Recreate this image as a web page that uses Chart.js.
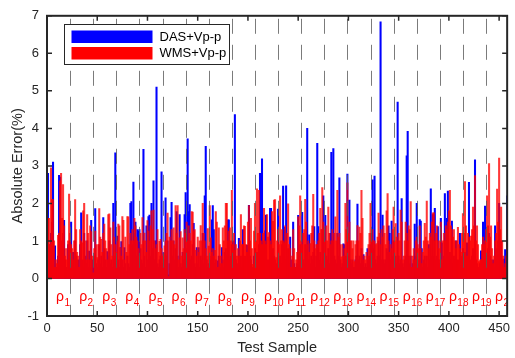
<!DOCTYPE html>
<html>
<head>
<meta charset="utf-8">
<script src="https://cdn.jsdelivr.net/npm/chart.js@4.4.0/dist/chart.umd.min.js"></script>
<style>
    html, body { margin: 0; padding: 0; background: #fff; }
    #wrap { width: 515px; height: 358px; }
</style>
</head>
<body>
<div id="wrap"><canvas id="errChart" width="515" height="358"></canvas></div>
<script>
// Absolute error per test sample (%), 23 samples per rho group
const dasErr = [
    2.8,0.9,0.4,1.2,1.5,3.1,0.5,0.87,0.3,0.2,0.6,2.75,2.7,1.0,0.8,1.2,1.55,0.5,0.3,0.2,0.9,0.6,1.0,
    1.5,0.4,0.7,0.3,1.0,0.6,0.4,0.5,0.2,0.9,1.75,0.5,0.3,1.2,0.6,0.4,1.0,0.3,0.73,0.3,1.55,0.5,0.32,
    0.6,1.86,0.4,0.3,0.5,0.9,0.4,0.6,0.3,1.62,0.8,0.5,0.3,0.72,0.6,1.0,0.4,0.5,0.3,2.0,0.6,3.35,0.4,
    1.13,0.5,0.3,0.82,0.98,0.5,0.3,0.82,0.4,0.2,0.6,0.4,0.3,2.0,2.05,0.9,2.57,1.2,1.5,0.6,1.3,1.26,1.3,
    0.8,0.5,0.4,3.44,0.6,0.3,1.4,0.5,1.65,1.69,0.6,2.0,0.8,2.6,0.5,1.0,5.1,0.4,0.3,0.5,0.6,2.84,0.4,
    0.69,0.5,2.15,0.6,1.0,0.1,0.4,1.62,2.03,0.6,1.0,0.5,0.8,1.78,0.6,0.3,1.7,0.4,0.3,0.7,0.5,1.7,2.29,
    0.8,3.72,1.78,1.97,0.5,0.6,0.9,1.47,0.4,0.3,0.82,0.4,0.82,0.3,0.6,0.5,1.2,0.4,2.2,3.52,0.5,0.3,0.4,
    0.6,0.5,1.56,1.94,1.3,0.4,0.5,0.3,0.47,0.6,0.4,0.3,0.82,0.5,0.3,0.7,0.8,0.6,1.56,1.56,0.5,0.6,0.9,
    1.0,0.7,4.37,0.5,0.4,0.3,1.07,0.4,0.6,0.3,1.3,0.5,0.6,0.4,0.89,0.5,1.95,0.6,0.5,0.3,0.2,0.6,0.8,
    0.5,0.7,0.6,0.9,2.8,2.78,3.19,1.0,0.6,1.27,1.69,0.4,0.5,0.3,1.87,1.87,0.5,0.8,0.6,0.5,0.3,0.4,1.85,
    0.5,0.6,0.4,0.9,2.46,1.36,0.5,2.47,0.6,0.8,0.4,1.1,0.3,0.5,1.5,0.4,0.3,0.2,0.4,1.68,0.6,0.9,0.5,
    1.76,0.5,0.4,0.9,0.8,4.0,0.5,1.16,0.4,0.6,0.5,0.7,1.38,0.3,0.6,3.6,1.38,0.5,0.7,0.4,1.3,2.2,0.4,
    1.68,0.6,0.5,0.8,0.4,1.2,3.36,1.0,3.46,0.6,0.5,0.4,1.2,0.6,2.68,0.5,0.3,0.4,0.92,0.9,0.6,0.5,2.78,
    0.6,2.09,0.5,0.4,0.5,0.3,0.3,0.5,0.6,1.98,0.5,0.6,0.4,0.8,0.6,0.64,0.3,0.4,0.3,0.8,0.5,0.6,0.9,
    1.2,2.63,0.8,2.73,0.5,0.4,0.6,1.0,0.6,6.84,0.5,1.69,0.5,0.4,0.5,0.8,0.7,1.4,1.2,0.5,1.53,0.6,1.0,
    0.5,0.6,0.4,4.7,0.6,0.4,0.5,2.13,0.4,0.3,0.5,0.6,3.27,3.92,0.6,0.4,0.6,0.3,0.4,0.5,1.45,0.6,2.0,
    0.5,0.4,1.57,1.53,0.8,0.3,0.5,0.6,0.4,0.6,0.3,0.9,0.5,2.39,0.6,1.7,0.6,1.87,0.5,0.6,1.38,0.5,0.4,
    1.6,0.95,0.4,0.6,2.26,0.5,1.6,2.33,0.6,0.7,0.5,1.53,0.4,0.6,0.5,1.0,0.4,0.5,0.3,1.2,0.4,0.6,0.8,
    0.5,0.7,0.5,0.95,0.6,2.56,0.5,0.4,0.6,0.8,0.6,3.16,0.5,0.4,0.3,0.3,0.4,0.74,0.5,1.5,0.5,1.93,0.6,
    0.6,0.8,1.2,0.6,0.5,0.4,0.5,0.3,1.4,0.5,0.8,1.0,2.0,0.6,1.0,0.5,0.3,0.52,0.77,0.5,2.2,0.5,0.4
];
const wmsErr = [
    1.6,1.6,0.9,2.95,2.1,2.1,1.0,0.3,0.5,0.4,1.15,1.2,2.6,2.8,1.6,2.5,1.4,0.6,0.8,0.5,1.0,2.25,1.2,
    0.9,0.8,0.5,1.0,2.1,1.3,0.7,0.6,0.3,1.3,1.0,0.95,1.8,2.0,1.0,0.5,1.7,1.2,0.5,1.4,1.25,0.6,0.15,
    0.8,1.26,0.9,0.56,0.9,1.86,1.1,1.04,0.7,1.2,1.45,1.0,0.8,0.5,1.7,1.72,1.35,0.9,0.6,1.5,1.1,0.9,0.7,
    1.0,1.45,1.4,0.82,0.6,1.65,1.55,0.5,1.1,0.7,1.65,1.64,0.9,1.2,1.0,1.3,1.0,1.6,1.4,1.1,1.0,0.8,0.6,
    1.2,0.9,1.62,1.0,1.21,1.0,0.7,1.54,1.26,1.0,1.4,1.8,1.3,1.82,1.0,0.8,0.9,1.3,0.7,0.99,1.04,0.8,0.6,
    0.65,0.87,1.0,1.2,1.74,0.05,1.1,1.0,1.3,1.0,1.35,0.9,1.94,1.2,1.94,0.5,1.08,1.25,0.6,1.08,0.8,1.3,1.2,
    1.5,1.0,1.4,1.2,1.0,1.78,1.77,1.26,1.3,0.75,0.6,1.1,0.7,1.0,1.41,1.0,2.0,1.2,1.0,0.8,0.6,1.33,0.86,
    1.94,1.08,0.7,0.8,0.6,0.75,1.78,1.5,0.3,1.35,0.9,0.6,0.4,1.35,1.0,1.4,2.0,2.0,1.0,1.26,1.35,1.0,2.35,
    0.9,1.2,0.75,0.9,0.6,0.8,0.6,1.0,1.7,0.9,0.9,1.4,1.39,0.9,0.7,1.5,1.94,1.0,1.6,0.8,0.38,1.26,2.0,
    1.0,2.39,1.2,2.35,1.2,1.0,0.9,1.2,1.87,1.0,0.9,1.7,1.1,1.22,1.0,0.9,1.78,1.52,2.09,2.1,0.56,1.0,1.3,
    0.9,2.2,1.0,1.3,1.0,0.95,1.4,1.0,1.2,1.99,0.9,0.8,0.3,0.6,1.3,0.8,0.3,0.5,0.7,1.64,1.4,2.2,1.0,
    0.9,1.2,1.3,2.11,1.5,0.9,1.0,0.7,0.93,1.2,1.4,2.24,1.0,0.8,0.9,0.9,1.0,1.2,1.87,1.3,2.42,1.5,1.3,
    1.0,1.4,1.0,1.9,1.2,0.9,1.0,1.3,1.0,1.2,1.64,1.0,2.35,1.1,1.2,0.9,0.58,0.9,0.6,0.8,2.0,1.3,2.55,
    1.2,1.5,1.0,1.0,0.8,1.0,0.45,0.9,1.0,1.41,1.0,1.37,1.2,2.35,1.6,0.5,0.6,0.5,0.7,0.6,0.9,1.2,2.0,
    1.0,1.3,1.0,1.0,0.9,0.93,1.1,1.74,1.2,0.9,1.3,1.1,1.4,1.2,0.9,1.8,2.26,1.0,0.7,0.9,0.8,1.3,1.9,
    1.0,1.46,1.1,1.0,1.2,1.0,1.82,1.5,0.5,0.6,1.0,1.5,1.2,1.0,1.4,1.3,2.05,0.3,0.6,0.8,0.5,1.0,1.1,
    0.9,0.8,1.4,0.8,0.4,0.7,1.0,1.47,1.1,2.06,1.0,0.8,1.2,1.1,1.5,1.75,1.75,1.0,1.2,1.4,1.0,0.8,1.0,
    1.5,0.5,1.0,1.2,1.0,1.4,1.3,1.5,1.8,2.35,1.4,1.3,1.1,1.3,1.0,0.8,1.0,1.36,0.9,0.8,0.7,1.2,1.73,
    1.2,2.58,1.4,0.6,1.2,1.1,1.0,1.13,1.3,1.9,1.4,2.74,1.0,1.4,0.9,0.45,0.5,0.5,0.9,1.1,0.9,1.0,1.3,
    2.2,1.4,3.06,1.1,1.4,0.8,0.4,0.6,1.0,1.2,2.38,1.5,3.21,1.3,1.9,1.0,0.6,0.3,0.4,0.6,1.3,0.6,0.5
];
const groupSize = 23;
const groupNames = ["1","2","3","4","5","6","7","8","9","10","11","12","13","14","15","16","17","18","19","20"];
const xTickValues = [0, 50, 100, 150, 200, 250, 300, 350, 400, 450];
const yTickValues = [-1, 0, 1, 2, 3, 4, 5, 6, 7];

const FONT = "'Liberation Sans', Arial, Helvetica, sans-serif";
const AXIS_COLOR = "#262626";

// dashed group separators, rho labels, legend and the boxed frame
const decorPlugin = {
    id: "decor",
    afterDatasetsDraw(chart) {
        const { ctx, chartArea: a, scales: { x, y } } = chart;
        ctx.save();
        ctx.beginPath();
        ctx.rect(a.left, a.top, a.right - a.left, a.bottom - a.top);
        ctx.clip();

        // group separators
        ctx.strokeStyle = "rgba(90, 90, 90, 0.8)";
        ctx.lineWidth = 1;
        ctx.setLineDash([15, 11]);
        for (let k = 1; k < groupNames.length; k++) {
            const px = Math.round(x.getPixelForValue(k * groupSize)) + 0.5;
            ctx.beginPath();
            ctx.moveTo(px, a.top + 3);
            ctx.lineTo(px, a.bottom);
            ctx.stroke();
        }
        ctx.setLineDash([]);

        // rho labels
        const py = y.getPixelForValue(-0.5);
        ctx.fillStyle = "#ff0000";
        ctx.textAlign = "left";
        ctx.textBaseline = "alphabetic";
        groupNames.forEach((name, i) => {
            const px = x.getPixelForValue(i * groupSize + 9);
            ctx.font = "14px " + FONT;
            ctx.fillText("ρ", px, py + 4);
            const w = ctx.measureText("ρ").width;
            ctx.font = "10px " + FONT;
            ctx.fillText(name, px + w + 0.5, py + 9);
        });
        ctx.restore();

        // legend
        const lg = { x: 64.5, y: 24.5, w: 165, h: 40 };
        ctx.save();
        ctx.fillStyle = "#ffffff";
        ctx.fillRect(lg.x, lg.y, lg.w, lg.h);
        ctx.strokeStyle = AXIS_COLOR;
        ctx.lineWidth = 1;
        ctx.strokeRect(lg.x, lg.y, lg.w, lg.h);
        ctx.font = "13px " + FONT;
        ctx.textBaseline = "middle";
        chart.data.datasets.forEach((ds, i) => {
            const rowY = lg.y + 6 + i * 16.5;
            ctx.fillStyle = ds.legendColor;
            ctx.fillRect(lg.x + 7, rowY, 81, 12.5);
            ctx.fillStyle = "#000000";
            ctx.fillText(ds.label, lg.x + 95, rowY + 6.5);
        });
        ctx.restore();

        // frame and inward ticks
        ctx.save();
        ctx.strokeStyle = AXIS_COLOR;
        ctx.lineWidth = 2;
        ctx.strokeRect(a.left, a.top, a.right - a.left, a.bottom - a.top);
        ctx.lineWidth = 1.5;
        ctx.beginPath();
        yTickValues.forEach((v) => {
            const ty = y.getPixelForValue(v);
            ctx.moveTo(a.left, ty);
            ctx.lineTo(a.left + 5, ty);
            ctx.moveTo(a.right, ty);
            ctx.lineTo(a.right - 5, ty);
        });
        xTickValues.forEach((v) => {
            const tx = x.getPixelForValue(v);
            ctx.moveTo(tx, a.bottom);
            ctx.lineTo(tx, a.bottom - 5);
            ctx.moveTo(tx, a.top);
            ctx.lineTo(tx, a.top + 5);
        });
        ctx.stroke();
        ctx.restore();
    }
};

const ctx = document.getElementById("errChart");
new Chart(ctx, {
    type: "bar",
    data: {
        datasets: [
            {
                label: "DAS+Vp-p",
                data: dasErr.map((v, i) => ({ x: i + 1, y: v })),
                backgroundColor: "rgb(0, 0, 255)",
                legendColor: "rgb(0, 0, 255)",
                borderWidth: 0,
                grouped: false,
                order: 1,
                barThickness: 1.4,
            },
            {
                label: "WMS+Vp-p",
                data: wmsErr.map((v, i) => ({ x: i + 1, y: v })),
                backgroundColor: "rgba(255, 0, 0, 0.78)",
                legendColor: "rgb(255, 0, 0)",
                borderWidth: 0,
                grouped: false,
                order: 0,
                barThickness: 1.4,
            },
        ],
    },
    options: {
        responsive: false,
        animation: false,
        devicePixelRatio: 1,
        layout: { autoPadding: false, padding: { top: 9, right: 2, left: 0, bottom: 0 } },
        plugins: {
            legend: { display: false },
            tooltip: { enabled: false },
        },
        scales: {
            x: {
                type: "linear",
                offset: false,
                min: 0,
                max: 458,
                grid: { display: false, drawTicks: false },
                border: { display: false },
                afterBuildTicks: (scale) => {
                    scale.ticks = xTickValues.map((v) => ({ value: v }));
                },
                afterFit: (scale) => {
                    scale.height = 42;
                },
                ticks: {
                    autoSkip: false,
                    maxRotation: 0,
                    padding: 5,
                    color: AXIS_COLOR,
                    font: { family: FONT, size: 13 },
                },
                title: {
                    display: true,
                    text: "Test Sample",
                    color: AXIS_COLOR,
                    padding: { top: 0, bottom: 1 },
                    font: { family: FONT, size: 14.5 },
                },
            },
            y: {
                min: -1,
                max: 7,
                grid: { display: false, drawTicks: false },
                border: { display: false },
                afterBuildTicks: (scale) => {
                    scale.ticks = yTickValues.map((v) => ({ value: v }));
                },
                afterFit: (scale) => {
                    scale.width = 47;
                },
                ticks: {
                    padding: 8,
                    color: AXIS_COLOR,
                    font: { family: FONT, size: 13 },
                },
                title: {
                    display: true,
                    text: "Absolute Error(%)",
                    color: AXIS_COLOR,
                    padding: { top: 9, bottom: 0 },
                    font: { family: FONT, size: 14.5 },
                },
            },
        },
    },
    plugins: [decorPlugin],
});
</script>
</body>
</html>
